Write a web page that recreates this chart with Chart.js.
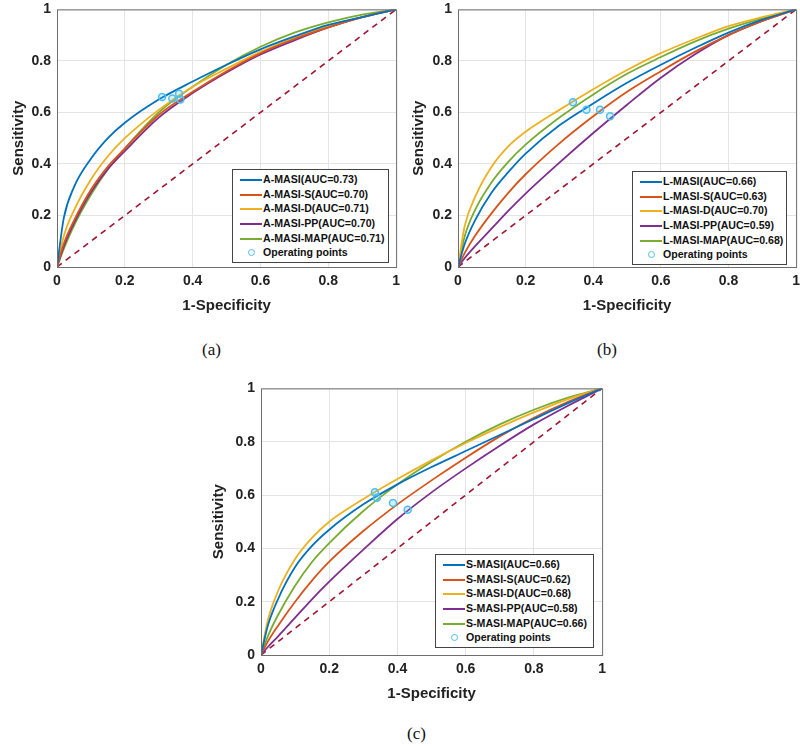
<!DOCTYPE html>
<html>
<head>
<meta charset="utf-8">
<script src="https://cdn.jsdelivr.net/npm/chart.js@4.4.0/dist/chart.umd.min.js"></script>
<style>
  body { margin: 0; background: #fff; }
  #page { position: relative; width: 800px; height: 746px; overflow: hidden; }
  canvas { position: absolute; }
  .cap { position: absolute; font-family: "Liberation Serif", serif; font-size: 17px; color: #111; }
  .legend { position: absolute; border: 1px solid #444; background: #fff; font-family: "Liberation Sans", Arial, sans-serif; font-weight: bold; font-size: 10.6px; color: #111; padding: 2px 0; }
  .legend .row { height: 14.7px; line-height: 14.7px; white-space: nowrap; position: relative; }
  .legend .ln { position: absolute; left: 7px; top: 7px; width: 22px; border-top: 2px solid; }
  .legend .dot { position: absolute; left: 15px; top: 4px; width: 5px; height: 5px; border: 1.5px solid #4DBEEE; border-radius: 50%; }
  .legend .tx { position: absolute; left: 30px; }
</style>
</head>
<body>
<div id="page">
  <canvas id="chartA" width="406" height="320" style="left:0;top:-5px"></canvas>
  <canvas id="chartB" width="406" height="320" style="left:400px;top:-5px"></canvas>
  <canvas id="chartC" width="412" height="329" style="left:200px;top:374px"></canvas>
  <div class="cap" style="left:202px;top:340px">(a)</div>
  <div class="cap" style="left:597px;top:340px">(b)</div>
  <div class="cap" style="left:407px;top:724px">(c)</div>
</div>
<script>
// false positive rate points used for every curve
const fpr = [0, 0.02, 0.05, 0.1, 0.15, 0.2, 0.3, 0.4, 0.5, 0.6, 0.7, 0.8, 0.9, 1];

// panel (a)
const aLabels = ["A-MASI(AUC=0.73)", "A-MASI-S(AUC=0.70)", "A-MASI-D(AUC=0.71)", "A-MASI-PP(AUC=0.70)", "A-MASI-MAP(AUC=0.71)"];
const aMasi    = [0, 0.19, 0.31, 0.42, 0.50, 0.56, 0.65, 0.72, 0.785, 0.845, 0.895, 0.94, 0.97, 1];
const aMasiS   = [0, 0.09, 0.18, 0.30, 0.39, 0.46, 0.59, 0.68, 0.76, 0.83, 0.885, 0.93, 0.97, 1];
const aMasiD   = [0, 0.12, 0.22, 0.34, 0.43, 0.50, 0.61, 0.70, 0.77, 0.835, 0.89, 0.935, 0.97, 1];
const aMasiPP  = [0, 0.08, 0.17, 0.29, 0.38, 0.45, 0.58, 0.675, 0.755, 0.825, 0.88, 0.93, 0.97, 1];
const aMasiMAP = [0, 0.07, 0.16, 0.28, 0.38, 0.46, 0.60, 0.70, 0.785, 0.855, 0.91, 0.95, 0.98, 1];
const aOpX = [0.31, 0.34, 0.36, 0.364];
const aOpY = [0.66, 0.654, 0.673, 0.65];

// panel (b)
const bLabels = ["L-MASI(AUC=0.66)", "L-MASI-S(AUC=0.63)", "L-MASI-D(AUC=0.70)", "L-MASI-PP(AUC=0.59)", "L-MASI-MAP(AUC=0.68)"];
const lMasi    = [0, 0.09, 0.18, 0.29, 0.37, 0.44, 0.55, 0.635, 0.715, 0.785, 0.85, 0.91, 0.96, 1];
const lMasiS   = [0, 0.055, 0.12, 0.21, 0.29, 0.36, 0.48, 0.585, 0.68, 0.76, 0.835, 0.90, 0.955, 1];
const lMasiD   = [0, 0.16, 0.27, 0.39, 0.47, 0.525, 0.61, 0.69, 0.765, 0.83, 0.885, 0.935, 0.97, 1];
const lMasiPP  = [0, 0.035, 0.08, 0.15, 0.22, 0.285, 0.405, 0.52, 0.63, 0.735, 0.825, 0.90, 0.955, 1];
const lMasiMAP = [0, 0.12, 0.22, 0.33, 0.41, 0.475, 0.58, 0.67, 0.75, 0.815, 0.875, 0.925, 0.965, 1];
const bOpX = [0.34, 0.38, 0.42, 0.45];
const bOpY = [0.64, 0.61, 0.61, 0.585];

// panel (c)
const cLabels = ["S-MASI(AUC=0.66)", "S-MASI-S(AUC=0.62)", "S-MASI-D(AUC=0.68)", "S-MASI-PP(AUC=0.58)", "S-MASI-MAP(AUC=0.66)"];
const sMasi    = [0, 0.11, 0.21, 0.33, 0.41, 0.47, 0.565, 0.64, 0.705, 0.765, 0.825, 0.885, 0.945, 1];
const sMasiS   = [0, 0.05, 0.11, 0.20, 0.28, 0.35, 0.465, 0.565, 0.655, 0.74, 0.82, 0.89, 0.95, 1];
const sMasiD   = [0, 0.13, 0.24, 0.36, 0.44, 0.50, 0.585, 0.66, 0.73, 0.795, 0.855, 0.91, 0.96, 1];
const sMasiPP  = [0, 0.03, 0.07, 0.14, 0.21, 0.275, 0.395, 0.51, 0.61, 0.70, 0.785, 0.865, 0.935, 1];
const sMasiMAP = [0, 0.07, 0.15, 0.26, 0.35, 0.42, 0.54, 0.64, 0.725, 0.80, 0.865, 0.92, 0.965, 1];
const cOpX = [0.334, 0.34, 0.387, 0.43];
const cOpY = [0.61, 0.59, 0.57, 0.545];

const colors = ["#0072BD", "#D95319", "#EDB120", "#7E2F8E", "#77AC30"];
const opColor = "#4DBEEE";
const chanceColor = "#A2142F";
const tickFont = { family: "Liberation Sans", weight: "bold", size: 14 };
const titleFont = { family: "Liberation Sans", weight: "bold", size: 15 };

const frame = {
  id: "frame",
  afterDraw(chart) {
    const a = chart.chartArea, ctx = chart.ctx;
    ctx.save();
    ctx.strokeStyle = "#6e6e6e";
    ctx.lineWidth = 1;
    ctx.strokeRect(a.left + 0.5, a.top + 0.5, a.right - a.left, a.bottom - a.top);
    ctx.restore();
  }
};

const fmtTick = v => String(Math.round(v * 10) / 10);

function renderRoc(canvasId, series, opX, opY, yAxisWidth, padRight) {
  const toPts = ys => ys.map((y, i) => ({ x: fpr[i], y: y }));
  const datasets = series.map((ys, i) => ({
    data: toPts(ys),
    borderColor: colors[i],
    borderWidth: 1.8,
    pointRadius: 0,
    cubicInterpolationMode: "monotone",
    order: 2
  }));
  datasets.push({
    data: [{ x: 0, y: 0 }, { x: 1, y: 1 }],
    borderColor: chanceColor,
    borderWidth: 1.6,
    borderDash: [6, 5],
    pointRadius: 0,
    order: 3
  });
  datasets.push({
    data: opX.map((x, i) => ({ x: x, y: opY[i] })),
    showLine: false,
    pointRadius: 3.5,
    pointBorderWidth: 1.5,
    pointBorderColor: opColor,
    pointBackgroundColor: "rgba(77,190,238,0.25)",
    order: 1
  });

  new Chart(document.getElementById(canvasId), {
    type: "line",
    data: { datasets: datasets },
    plugins: [frame],
    options: {
      responsive: false,
      animation: false,
      layout: { padding: { top: 5, right: padRight, left: 10, bottom: 0 } },
      plugins: { legend: { display: false }, tooltip: { enabled: false } },
      scales: {
        x: {
          type: "linear", min: 0, max: 1,
          ticks: { stepSize: 0.2, color: "#222", font: tickFont, padding: 6, maxRotation: 0, callback: fmtTick },
          grid: { color: "#e4e4e4", drawTicks: false },
          border: { display: false },
          title: { display: true, text: "1-Specificity", color: "#222", font: titleFont, padding: { top: 1, bottom: 0 } },
          afterFit: s => { s.height = 48; }
        },
        y: {
          min: 0, max: 1,
          ticks: { stepSize: 0.2, color: "#222", font: tickFont, padding: 6, callback: fmtTick },
          grid: { color: "#e4e4e4", drawTicks: false },
          border: { display: false },
          title: { display: true, text: "Sensitivity", color: "#222", font: titleFont, padding: 0 },
          afterFit: s => { s.width = yAxisWidth; }
        }
      }
    }
  });
}

function renderLegend(labels, left, top, width) {
  const box = document.createElement("div");
  box.className = "legend";
  box.style.left = left + "px";
  box.style.top = top + "px";
  box.style.width = width + "px";
  labels.forEach((t, i) => {
    box.innerHTML += '<div class="row"><span class="ln" style="border-color:' + colors[i] + '"></span><span class="tx">' + t + '</span></div>';
  });
  box.innerHTML += '<div class="row"><span class="dot"></span><span class="tx">Operating points</span></div>';
  document.getElementById("page").appendChild(box);
}

renderRoc("chartA", [aMasi, aMasiS, aMasiD, aMasiPP, aMasiMAP], aOpX, aOpY, 47, 1);
renderRoc("chartB", [lMasi, lMasiS, lMasiD, lMasiPP, lMasiMAP], bOpX, bOpY, 48, 1);
renderRoc("chartC", [sMasi, sMasiS, sMasiD, sMasiPP, sMasiMAP], cOpX, cOpY, 51, 0);

renderLegend(aLabels, 232, 169, 155);
renderLegend(bLabels, 632, 171, 153);
renderLegend(cLabels, 435, 554, 157);
</script>
</body>
</html>
